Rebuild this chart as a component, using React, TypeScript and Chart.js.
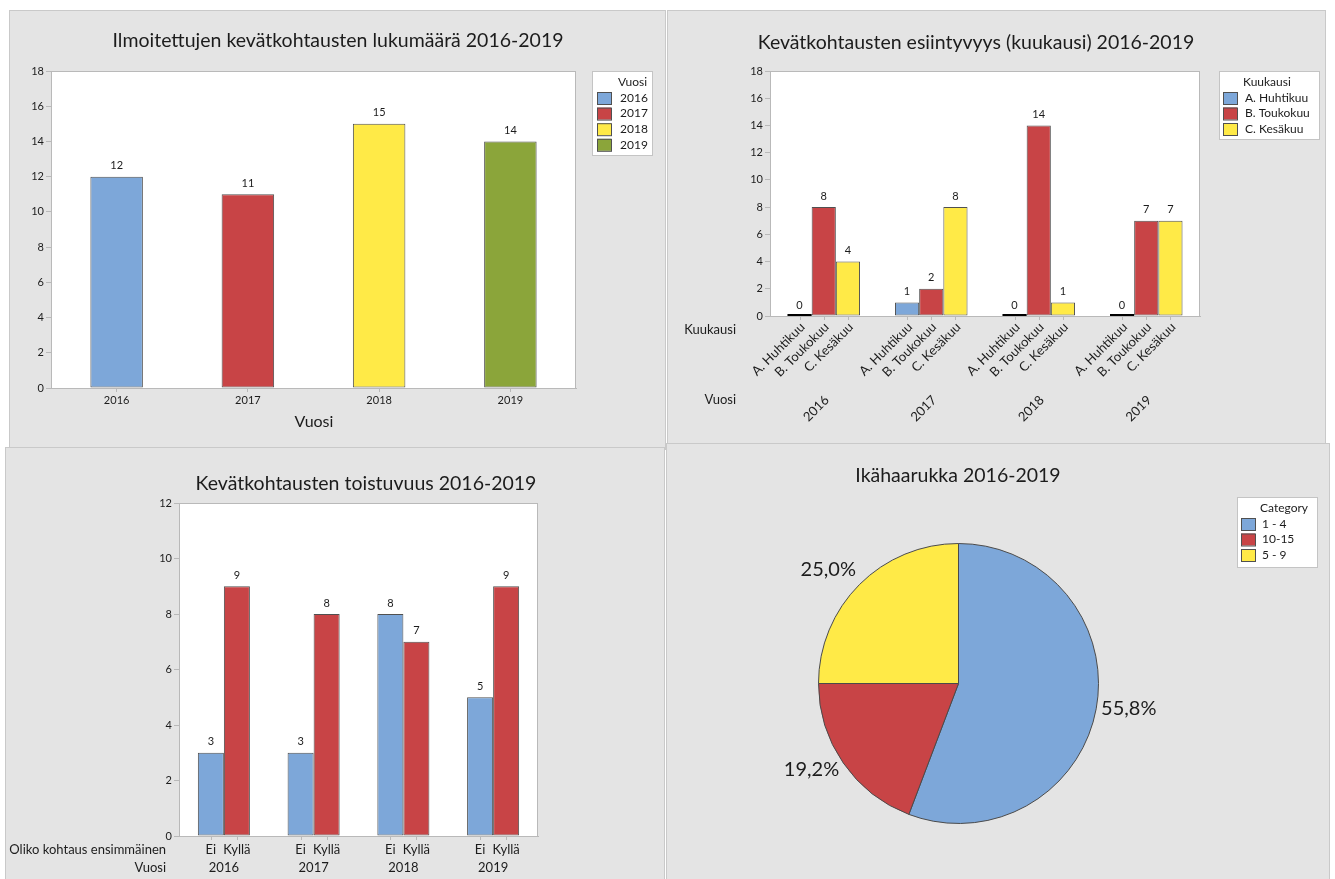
import React, { useEffect, useRef } from "react";
import { Chart, registerables } from "chart.js";
Chart.register(...registerables);

// ---------- data ----------
const years = ["2016", "2017", "2018", "2019"];
const casesPerYear = [12, 11, 15, 14];

const months = ["A. Huhtikuu", "B. Toukokuu", "C. Kesäkuu"];
const aprilCases = [0, 1, 0, 0];
const mayCases = [8, 2, 14, 7];
const juneCases = [4, 8, 1, 7];

const firstLabels = ["Ei", "Kyllä"];
const firstNo = [3, 3, 8, 5];
const firstYes = [9, 8, 7, 9];

const ageCategories = ["1 - 4", "10-15", "5 - 9"];
const ageCounts = [29, 10, 13];

const yTicksCount = { min: 0, max: 18, step: 2 };
const yTicksRepeat = { min: 0, max: 12, step: 2 };

// ---------- styles ----------
const FONT = "Lato, 'Open Sans', 'DejaVu Sans', sans-serif";
const TEXT = "#1c1c1c";
const AXIS = "#b9b9b9";
const EDGE = "#505050";
const PANEL = "#e4e4e4";
const BLUE = "#7da7d9";
const RED = "#c84446";
const YELLOW = "#ffea47";
const GREEN = "#8ba53a";
const TITLE_SIZE = 19.5;

Chart.defaults.font.family = FONT;
Chart.defaults.color = TEXT;

// ---------- plugins ----------
const framePlugin = {
  id: "frame",
  beforeDraw(chart: any) {
    const { ctx, chartArea: a } = chart;
    ctx.save();
    ctx.fillStyle = "#ffffff";
    ctx.fillRect(a.left, a.top, a.right - a.left, a.bottom - a.top);
    ctx.strokeStyle = AXIS;
    ctx.lineWidth = 1;
    ctx.strokeRect(a.left + 0.5, a.top + 0.5, a.right - a.left - 1, a.bottom - a.top);
    ctx.restore();
  },
};

function textPlugin(id: string, items: { text: string; x: number; y: number; size: number; align?: string }[]) {
  return {
    id,
    afterDraw(chart: any) {
      const ctx = chart.ctx;
      ctx.save();
      ctx.fillStyle = TEXT;
      ctx.textBaseline = "middle";
      items.forEach((t) => {
        ctx.font = `${t.size}px ${FONT}`;
        ctx.textAlign = (t.align || "center") as CanvasTextAlign;
        ctx.fillText(t.text, t.x, t.y);
      });
      ctx.restore();
    },
  };
}

function legendPlugin(cfg: {
  x: number; y: number; w: number; h: number; title: string; titleY: number;
  swX: number; textX: number; rowY0: number; rowStep: number;
  labels: string[]; colors: string[];
}) {
  return {
    id: "boxLegend",
    afterDraw(chart: any) {
      const ctx = chart.ctx;
      ctx.save();
      ctx.fillStyle = "#ffffff";
      ctx.fillRect(cfg.x, cfg.y, cfg.w, cfg.h);
      ctx.strokeStyle = "#c4c4c4";
      ctx.lineWidth = 1;
      ctx.strokeRect(cfg.x + 0.5, cfg.y + 0.5, cfg.w, cfg.h);
      ctx.font = `12px ${FONT}`;
      ctx.fillStyle = TEXT;
      ctx.textAlign = "left";
      ctx.textBaseline = "middle";
      ctx.fillText(cfg.title, cfg.textX - 2, cfg.titleY);
      cfg.labels.forEach((lab, i) => {
        const cy = cfg.rowY0 + i * cfg.rowStep;
        ctx.fillStyle = cfg.colors[i];
        ctx.fillRect(cfg.swX, cy - 6, 14, 12);
        ctx.strokeStyle = EDGE;
        ctx.strokeRect(cfg.swX + 0.5, cy - 5.5, 14, 12);
        ctx.fillStyle = TEXT;
        ctx.fillText(lab, cfg.textX, cy);
      });
      ctx.restore();
    },
  };
}

const valueLabelPlugin = {
  id: "valueLabels",
  afterDatasetsDraw(chart: any) {
    const ctx = chart.ctx;
    ctx.save();
    ctx.font = `11px ${FONT}`;
    ctx.fillStyle = TEXT;
    ctx.textAlign = "center";
    ctx.textBaseline = "middle";
    chart.data.datasets.forEach((ds: any, i: number) => {
      const meta = chart.getDatasetMeta(i);
      meta.data.forEach((el: any, j: number) => {
        const v = ds.data[j];
        const p = el.getProps(["x", "y", "width"], true);
        if (v === 0) {
          ctx.strokeStyle = "#000000";
          ctx.lineWidth = 2;
          ctx.beginPath();
          ctx.moveTo(p.x - p.width / 2, p.y - 1);
          ctx.lineTo(p.x + p.width / 2, p.y - 1);
          ctx.stroke();
        }
        ctx.fillStyle = TEXT;
        ctx.fillText(String(v), p.x, p.y - 11);
      });
    });
    ctx.restore();
  },
};

const barTickPlugin = {
  id: "barTicks",
  afterDraw(chart: any) {
    const ctx = chart.ctx;
    const bottom = chart.chartArea.bottom;
    ctx.save();
    ctx.strokeStyle = AXIS;
    ctx.lineWidth = 1;
    chart.data.datasets.forEach((_ds: any, i: number) => {
      chart.getDatasetMeta(i).data.forEach((el: any) => {
        const x = Math.round(el.x) + 0.5;
        ctx.beginPath();
        ctx.moveTo(x, bottom);
        ctx.lineTo(x, bottom + 4);
        ctx.stroke();
      });
    });
    ctx.restore();
  },
};

const monthLabelPlugin = {
  id: "monthLabels",
  afterDraw(chart: any) {
    const ctx = chart.ctx;
    const bottom = chart.chartArea.bottom;
    const xs = chart.scales.x;
    ctx.save();
    ctx.fillStyle = TEXT;
    ctx.textAlign = "right";
    ctx.textBaseline = "middle";
    ctx.font = `13px ${FONT}`;
    chart.data.datasets.forEach((ds: any, i: number) => {
      chart.getDatasetMeta(i).data.forEach((el: any) => {
        ctx.save();
        ctx.translate(el.x + 3, bottom + 9);
        ctx.rotate(-Math.PI / 4);
        ctx.fillText(ds.label, 0, 0);
        ctx.restore();
      });
    });
    chart.data.labels.forEach((lab: string, j: number) => {
      const cx = xs.getPixelForValue(j);
      ctx.save();
      ctx.translate(cx + 3, bottom + 82);
      ctx.rotate(-Math.PI / 4);
      ctx.fillText(lab, 0, 0);
      ctx.restore();
    });
    ctx.restore();
  },
};

const firstLabelPlugin = {
  id: "firstLabels",
  afterDraw(chart: any) {
    const ctx = chart.ctx;
    const bottom = chart.chartArea.bottom;
    const xs = chart.scales.x;
    ctx.save();
    ctx.fillStyle = TEXT;
    ctx.textAlign = "center";
    ctx.textBaseline = "middle";
    ctx.font = `13px ${FONT}`;
    chart.data.datasets.forEach((ds: any, i: number) => {
      chart.getDatasetMeta(i).data.forEach((el: any) => {
        ctx.fillText(ds.label, el.x, bottom + 14);
      });
    });
    chart.data.labels.forEach((lab: string, j: number) => {
      ctx.fillText(lab, xs.getPixelForValue(j), bottom + 32);
    });
    ctx.restore();
  },
};

const pieLabelPlugin = {
  id: "pieLabels",
  afterDatasetsDraw(chart: any) {
    const ctx = chart.ctx;
    const ds = chart.data.datasets[0];
    const total = ds.data.reduce((a: number, b: number) => a + b, 0);
    ctx.save();
    ctx.font = `20px ${FONT}`;
    ctx.fillStyle = TEXT;
    ctx.textBaseline = "middle";
    chart.getDatasetMeta(0).data.forEach((el: any, i: number) => {
      const p = el.getProps(["x", "y", "startAngle", "endAngle", "outerRadius"], true);
      const mid = (p.startAngle + p.endAngle) / 2;
      const r = p.outerRadius + 5;
      const px = p.x + Math.cos(mid) * r;
      const py = p.y + Math.sin(mid) * r + Math.sin(mid) * 12 - 3;
      ctx.textAlign = Math.cos(mid) >= 0 ? "left" : "right";
      const pct = ((ds.data[i] / total) * 100).toFixed(1).replace(".", ",") + "%";
      ctx.fillText(pct, px, py);
    });
    ctx.restore();
  },
};

// ---------- shared axis config ----------
function yAxis(t: { min: number; max: number; step: number }, width: number) {
  return {
    min: t.min,
    max: t.max,
    ticks: { stepSize: t.step, font: { size: 11 }, color: TEXT, padding: 2 },
    grid: { display: true, drawOnChartArea: false, drawTicks: true, tickLength: 5, color: AXIS },
    border: { display: true, color: AXIS },
    afterFit: (s: any) => {
      s.width = width;
    },
  };
}

const baseOptions = {
  animation: false as const,
  responsive: false,
  maintainAspectRatio: false,
  events: [] as any[],
};

// ---------- chart configs ----------
function makeYearChart(): any {
  return {
    type: "bar",
    data: {
      labels: years,
      datasets: [
        {
          label: "Vuosi",
          data: casesPerYear,
          backgroundColor: [BLUE, RED, YELLOW, GREEN],
          borderColor: EDGE,
          borderWidth: 1,
          borderSkipped: false,
          categoryPercentage: 0.5,
          barPercentage: 0.8,
        },
      ],
    },
    options: {
      ...baseOptions,
      layout: { padding: { left: 0, top: 61, right: 90, bottom: 0 }, autoPadding: false },
      plugins: { legend: { display: false }, tooltip: { enabled: false }, title: { display: false } },
      scales: {
        x: {
          ticks: { font: { size: 11 }, color: TEXT, padding: 2 },
          grid: { display: true, drawOnChartArea: false, offset: false, tickLength: 4, color: AXIS },
          border: { display: true, color: AXIS },
          afterFit: (s: any) => {
            s.height = 58;
          },
        },
        y: yAxis(yTicksCount, 42),
      },
    },
    plugins: [
      framePlugin,
      valueLabelPlugin,
      textPlugin("texts1", [
        { text: "Ilmoitettujen kevätkohtausten lukumäärä 2016-2019", x: 329, y: 31, size: TITLE_SIZE },
        { text: "Vuosi", x: 305, y: 412, size: 16 },
      ]),
      legendPlugin({
        x: 583, y: 61, w: 60, h: 84, title: "Vuosi", titleY: 72,
        swX: 588, textX: 611, rowY0: 88, rowStep: 15.6,
        labels: years, colors: [BLUE, RED, YELLOW, GREEN],
      }),
    ],
  };
}

function makeMonthChart(): any {
  const series = [aprilCases, mayCases, juneCases];
  const colors = [BLUE, RED, YELLOW];
  return {
    type: "bar",
    data: {
      labels: years,
      datasets: months.map((m, i) => ({
        label: m,
        data: series[i],
        backgroundColor: colors[i],
        borderColor: EDGE,
        borderWidth: 1,
        borderSkipped: false,
        categoryPercentage: 0.675,
        barPercentage: 1.0,
      })),
    },
    options: {
      ...baseOptions,
      layout: { padding: { left: 0, top: 61, right: 126, bottom: 0 }, autoPadding: false },
      plugins: { legend: { display: false }, tooltip: { enabled: false }, title: { display: false } },
      scales: {
        x: {
          ticks: { display: false },
          grid: { display: false },
          border: { display: true, color: AXIS },
          afterFit: (s: any) => {
            s.height = 126;
          },
        },
        y: yAxis(yTicksCount, 103),
      },
    },
    plugins: [
      framePlugin,
      valueLabelPlugin,
      barTickPlugin,
      monthLabelPlugin,
      textPlugin("texts2", [
        { text: "Kevätkohtausten esiintyvyys (kuukausi) 2016-2019", x: 309, y: 33, size: TITLE_SIZE },
        { text: "Kuukausi", x: 69, y: 320, size: 13, align: "right" },
        { text: "Vuosi", x: 69, y: 390, size: 13, align: "right" },
      ]),
      legendPlugin({
        x: 552, y: 61, w: 100, h: 68, title: "Kuukausi", titleY: 72,
        swX: 556, textX: 578, rowY0: 88, rowStep: 15.5,
        labels: months, colors: [BLUE, RED, YELLOW],
      }),
    ],
  };
}

function makeFirstChart(): any {
  const series = [firstNo, firstYes];
  const colors = [BLUE, RED];
  return {
    type: "bar",
    data: {
      labels: years,
      datasets: firstLabels.map((l, i) => ({
        label: l,
        data: series[i],
        backgroundColor: colors[i],
        borderColor: EDGE,
        borderWidth: 1,
        borderSkipped: false,
        categoryPercentage: 0.58,
        barPercentage: 1.0,
      })),
    },
    options: {
      ...baseOptions,
      layout: { padding: { left: 0, top: 56, right: 127, bottom: 0 }, autoPadding: false },
      plugins: { legend: { display: false }, tooltip: { enabled: false }, title: { display: false } },
      scales: {
        x: {
          ticks: { display: false },
          grid: { display: false },
          border: { display: true, color: AXIS },
          afterFit: (s: any) => {
            s.height = 43;
          },
        },
        y: yAxis(yTicksRepeat, 174),
      },
    },
    plugins: [
      framePlugin,
      valueLabelPlugin,
      barTickPlugin,
      firstLabelPlugin,
      textPlugin("texts3", [
        { text: "Kevätkohtausten toistuvuus 2016-2019", x: 361, y: 37, size: TITLE_SIZE },
        { text: "Oliko kohtaus ensimmäinen", x: 161, y: 403, size: 13, align: "right" },
        { text: "Vuosi", x: 161, y: 421, size: 13, align: "right" },
      ]),
    ],
  };
}

function makeAgeChart(): any {
  return {
    type: "pie",
    data: {
      labels: ageCategories,
      datasets: [
        {
          data: ageCounts,
          backgroundColor: [BLUE, RED, YELLOW],
          borderColor: "#4a4a4a",
          borderWidth: 1,
        },
      ],
    },
    options: {
      ...baseOptions,
      layout: { padding: { left: 152, top: 100, right: 231, bottom: 55 }, autoPadding: false },
      plugins: { legend: { display: false }, tooltip: { enabled: false }, title: { display: false } },
    },
    plugins: [
      pieLabelPlugin,
      textPlugin("texts4", [{ text: "Ikähaarukka 2016-2019", x: 292, y: 33, size: TITLE_SIZE }]),
      legendPlugin({
        x: 571, y: 54, w: 80, h: 70, title: "Category", titleY: 65,
        swX: 575, textX: 596, rowY0: 81, rowStep: 15.5,
        labels: ageCategories, colors: [BLUE, RED, YELLOW],
      }),
    ],
  };
}

// ---------- components ----------
function ChartCanvas(props: { left: number; top: number; width: number; height: number; make: () => any }) {
  const ref = useRef<HTMLCanvasElement>(null);
  useEffect(() => {
    const chart = new Chart(ref.current as HTMLCanvasElement, props.make());
    return () => chart.destroy();
  }, []);
  return (
    <canvas
      ref={ref}
      width={props.width}
      height={props.height}
      style={{ position: "absolute", left: props.left, top: props.top, width: props.width, height: props.height }}
    />
  );
}

const panels = [
  { left: 9, top: 10, width: 657, height: 436, make: makeYearChart },
  { left: 667, top: 10, width: 659, height: 432, make: makeMonthChart },
  { left: 5, top: 447, width: 660, height: 432, make: makeFirstChart },
  { left: 666, top: 443, width: 664, height: 436, make: makeAgeChart },
];

export default function App() {
  return (
    <div
      style={{
        position: "absolute",
        left: 0,
        top: 0,
        width: 1335,
        height: 879,
        background: "#ffffff",
        overflow: "hidden",
      }}
    >
      {panels.map((p, i) => (
        <div
          key={"bg" + i}
          style={{
            position: "absolute",
            left: p.left,
            top: p.top,
            width: p.width,
            height: p.height + 4,
            background: PANEL,
            border: "1px solid #c9c9c9",
            boxSizing: "border-box",
          }}
        />
      ))}
      {panels.map((p, i) => (
        <ChartCanvas key={"c" + i} {...p} />
      ))}
    </div>
  );
}
